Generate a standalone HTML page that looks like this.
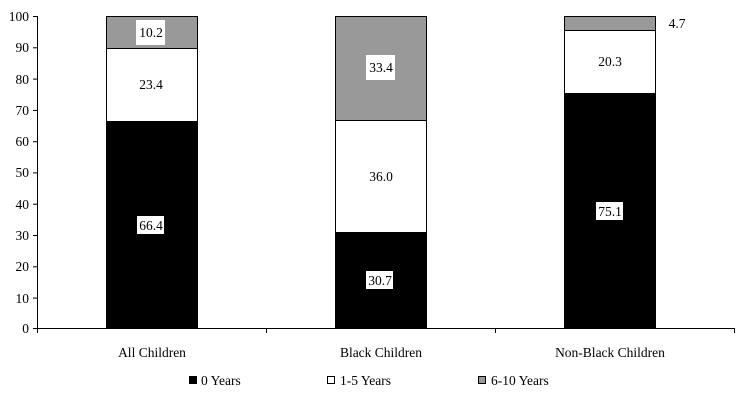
<!DOCTYPE html>
<html><head><style>body{margin:0;background:#fff}</style></head><body>
<svg width="745" height="409" xmlns="http://www.w3.org/2000/svg" font-family="Liberation Serif, serif" font-size="13.5">
<rect width="745" height="409" fill="#fff"/>
<g stroke="#000" stroke-width="1">
<line x1="37.5" y1="16" x2="37.5" y2="329"/>
<line x1="37" y1="328.5" x2="735" y2="328.5"/>
<line x1="33" y1="16.5" x2="37" y2="16.5"/><line x1="33" y1="47.8" x2="37" y2="47.8"/><line x1="33" y1="79.1" x2="37" y2="79.1"/><line x1="33" y1="110.4" x2="37" y2="110.4"/><line x1="33" y1="141.7" x2="37" y2="141.7"/><line x1="33" y1="172.9" x2="37" y2="172.9"/><line x1="33" y1="204.2" x2="37" y2="204.2"/><line x1="33" y1="235.5" x2="37" y2="235.5"/><line x1="33" y1="266.8" x2="37" y2="266.8"/><line x1="33" y1="298.1" x2="37" y2="298.1"/><line x1="33" y1="328.5" x2="37" y2="328.5"/>
<line x1="37.5" y1="328" x2="37.5" y2="333"/><line x1="266.5" y1="328" x2="266.5" y2="333"/><line x1="495.5" y1="328" x2="495.5" y2="333"/><line x1="734.5" y1="328" x2="734.5" y2="333"/>
</g>
<g text-anchor="end">
<text x="29" y="21">100</text><text x="29" y="52">90</text><text x="29" y="84">80</text><text x="29" y="115">70</text><text x="29" y="146">60</text><text x="29" y="177">50</text><text x="29" y="209">40</text><text x="29" y="240">30</text><text x="29" y="271">20</text><text x="29" y="303">10</text><text x="29" y="333">0</text>
</g>
<g stroke="#000" stroke-width="1">
<rect x="106.5" y="121.5" width="91" height="207" fill="#000"/>
<rect x="106.5" y="48.5" width="91" height="73" fill="#fff"/>
<rect x="106.5" y="16.5" width="91" height="32" fill="#999"/>
<rect x="335.5" y="232.5" width="91" height="96" fill="#000"/>
<rect x="335.5" y="120.5" width="91" height="112" fill="#fff"/>
<rect x="335.5" y="16.5" width="91" height="104" fill="#999"/>
<rect x="564.5" y="93.5" width="91" height="235" fill="#000"/>
<rect x="564.5" y="30.5" width="91" height="63" fill="#fff"/>
<rect x="564.5" y="16.5" width="91" height="14" fill="#999"/>
</g>
<g fill="#fff">
<rect x="136" y="20" width="29" height="25"/>
<rect x="137" y="216" width="27" height="18"/>
<rect x="366" y="55" width="29" height="25"/>
<rect x="366" y="271" width="27" height="18"/>
<rect x="596" y="202" width="27" height="18"/>
</g>
<g text-anchor="middle">
<text x="151" y="37">10.2</text><text x="151" y="89">23.4</text><text x="151" y="230">66.4</text>
<text x="381" y="72">33.4</text><text x="381" y="181">36.0</text><text x="380" y="285">30.7</text>
<text x="610" y="66">20.3</text><text x="610" y="216">75.1</text>
<text x="677" y="28">4.7</text>
<text x="152" y="357">All Children</text><text x="381" y="357">Black Children</text><text x="610" y="357">Non-Black Children</text>
</g>
<rect x="189" y="376" width="8" height="8" fill="#000"/>
<text x="201" y="385">0 Years</text>
<rect x="327.5" y="376.5" width="7" height="7" fill="#fff" stroke="#000"/>
<text x="340" y="385">1-5 Years</text>
<rect x="478.5" y="376.5" width="7" height="7" fill="#999" stroke="#000"/>
<text x="491" y="385">6-10 Years</text>
</svg>
</body></html>
